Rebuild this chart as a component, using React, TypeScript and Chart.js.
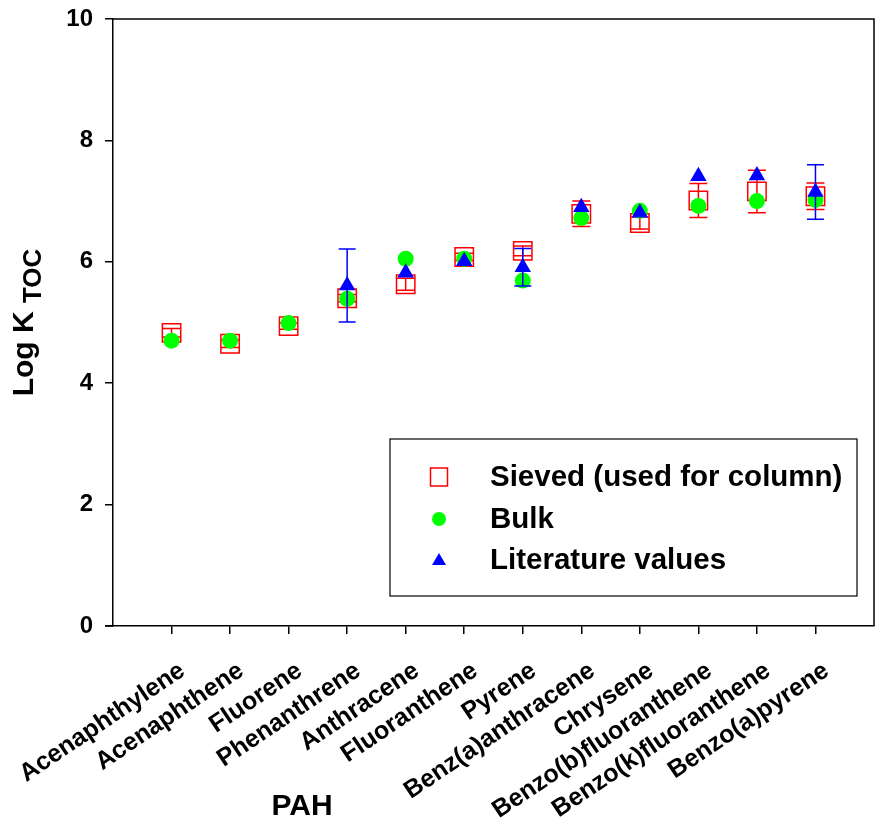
import React, { useEffect, useRef } from "react";
import { Chart, registerables } from "chart.js";

Chart.register(...registerables);

const categories = [
  "Acenaphthylene",
  "Acenaphthene",
  "Fluorene",
  "Phenanthrene",
  "Anthracene",
  "Fluoranthene",
  "Pyrene",
  "Benz(a)anthracene",
  "Chrysene",
  "Benzo(b)fluoranthene",
  "Benzo(k)fluoranthene",
  "Benzo(a)pyrene",
];

const sieved = [4.83, 4.65, 4.94, 5.4, 5.63, 6.08, 6.18, 6.79, 6.64, 7.01, 7.16, 7.08];
const sievedErr = [0.07, 0.06, 0.05, 0.06, 0.1, 0.06, 0.08, 0.21, 0.1, 0.28, 0.35, 0.22];
const bulk = [4.7, 4.7, 4.99, 5.39, 6.05, 6.05, 5.69, 6.72, 6.84, 6.92, 7.0, 7.02];
const literature: (number | null)[] = [null, null, null, 5.61, 5.82, 6.01, 5.91, 6.9, 6.81, 7.41, 7.42, 7.15];
const literatureErr = [0, 0, 0, 0.6, 0, 0, 0.31, 0, 0, 0, 0, 0.45];

const yTicks = [0, 2, 4, 6, 8, 10];

const FONT = "'Liberation Sans', Arial, sans-serif";

const legendItems = [
  { label: "Sieved (used for column)", kind: "square" },
  { label: "Bulk", kind: "circle" },
  { label: "Literature values", kind: "triangle" },
];

function toPoints(vals: (number | null)[], errs: number[]) {
  const pts: any[] = [];
  vals.forEach((v, i) => {
    if (v != null) pts.push({ x: i + 1, y: v, e: errs ? errs[i] : 0 });
  });
  return pts;
}

const errorBarPlugin = {
  id: "errorBars",
  beforeDatasetDraw(chart: any, args: any) {
    const ds = chart.data.datasets[args.index];
    if (!ds.errColor) return;
    const ctx = chart.ctx;
    const ys = chart.scales.y;
    const cap = ds.capHalf || 9;
    ctx.save();
    ctx.strokeStyle = ds.errColor;
    ctx.lineWidth = 1.5;
    args.meta.data.forEach((pt: any, i: number) => {
      const raw = ds.data[i];
      if (!raw || !raw.e) return;
      const x = pt.x;
      const yTop = ys.getPixelForValue(raw.y + raw.e);
      const yBot = ys.getPixelForValue(raw.y - raw.e);
      ctx.beginPath();
      ctx.moveTo(x, yTop);
      ctx.lineTo(x, yBot);
      ctx.moveTo(x - cap, yTop);
      ctx.lineTo(x + cap, yTop);
      ctx.moveTo(x - cap, yBot);
      ctx.lineTo(x + cap, yBot);
      ctx.stroke();
    });
    ctx.restore();
  },
};

const decorPlugin = {
  id: "decor",
  afterDraw(chart: any) {
    const ctx = chart.ctx;
    const a = chart.chartArea;
    ctx.save();
    ctx.strokeStyle = "#000";
    ctx.lineWidth = 1.5;
    ctx.beginPath();
    ctx.moveTo(a.left, a.top);
    ctx.lineTo(a.right, a.top);
    ctx.lineTo(a.right, a.bottom);
    ctx.moveTo(a.left - 8, a.bottom);
    ctx.lineTo(a.left, a.bottom);
    ctx.stroke();

    // y title
    const cy = (a.top + a.bottom) / 2;
    ctx.translate(33, cy);
    ctx.rotate(-Math.PI / 2);
    ctx.fillStyle = "#000";
    ctx.textBaseline = "alphabetic";
    ctx.textAlign = "left";
    ctx.font = `bold 30px ${FONT}`;
    const t1 = "Log K ";
    const w1 = ctx.measureText(t1).width;
    ctx.font = `bold 26px ${FONT}`;
    const t2 = "TOC";
    const w2 = ctx.measureText(t2).width;
    const start = -(w1 + w2) / 2;
    ctx.font = `bold 30px ${FONT}`;
    ctx.fillText(t1, start, 0);
    ctx.font = `bold 26px ${FONT}`;
    ctx.fillText(t2, start + w1, 8);
    ctx.restore();

    // x title
    ctx.save();
    ctx.fillStyle = "#000";
    ctx.font = `bold 30px ${FONT}`;
    ctx.textAlign = "center";
    ctx.textBaseline = "alphabetic";
    ctx.fillText("PAH", 302, 815);
    ctx.restore();

    // legend
    ctx.save();
    const bx = 390, by = 439, bw = 467, bh = 157;
    ctx.strokeStyle = "#000";
    ctx.lineWidth = 1.2;
    ctx.strokeRect(bx, by, bw, bh);
    const rows = [477, 519, 560];
    legendItems.forEach((it, i) => {
      const y = rows[i];
      const mx = 439;
      if (it.kind === "square") {
        ctx.strokeStyle = "#ff0000";
        ctx.lineWidth = 1.5;
        ctx.strokeRect(mx - 8.5, y - 9, 17, 18);
      } else if (it.kind === "circle") {
        ctx.fillStyle = "#00ff00";
        ctx.beginPath();
        ctx.arc(mx, y, 7, 0, Math.PI * 2);
        ctx.fill();
      } else {
        ctx.fillStyle = "#0000ff";
        ctx.beginPath();
        ctx.moveTo(mx, y - 7);
        ctx.lineTo(mx + 7, y + 5);
        ctx.lineTo(mx - 7, y + 5);
        ctx.closePath();
        ctx.fill();
      }
      ctx.fillStyle = "#000";
      ctx.font = `bold 29.5px ${FONT}`;
      ctx.textAlign = "left";
      ctx.textBaseline = "middle";
      ctx.fillText(it.label, 490, y + 1);
    });
    ctx.restore();
  },
};

function zeroPad(scale: any) {
  scale.paddingTop = 0;
  scale.paddingBottom = 0;
  scale.paddingLeft = 0;
  scale.paddingRight = 0;
}

export default function App() {
  const ref = useRef<HTMLCanvasElement | null>(null);
  useEffect(() => {
    document.body.style.margin = "0";
    if (!ref.current) return;
    const chart = new Chart(ref.current, {
      type: "scatter",
      data: {
        datasets: [
          {
            label: "Sieved (used for column)",
            data: toPoints(sieved, sievedErr),
            pointStyle: "rect",
            pointRadius: 13,
            pointBorderColor: "#ff0000",
            pointBackgroundColor: "rgba(0,0,0,0)",
            pointBorderWidth: 1.5,
            order: 3,
            errColor: "#ff0000",
            capHalf: 9,
          } as any,
          {
            label: "Bulk",
            data: toPoints(bulk, []),
            pointStyle: "circle",
            pointRadius: 8,
            pointBorderWidth: 0,
            pointBackgroundColor: "#00ff00",
            pointBorderColor: "#00ff00",
            order: 2,
          } as any,
          {
            label: "Literature values",
            data: toPoints(literature, literatureErr),
            pointStyle: "triangle",
            pointRadius: 9.5,
            pointBorderWidth: 0,
            pointBackgroundColor: "#0000ff",
            pointBorderColor: "#0000ff",
            order: 1,
            errColor: "#0000ff",
            capHalf: 8.5,
          } as any,
        ],
      },
      options: {
        animation: false,
        responsive: false,
        events: [],
        layout: { autoPadding: false, padding: { top: 19, right: 4, left: 0, bottom: 0 } },
        plugins: { legend: { display: false }, tooltip: { enabled: false } },
        scales: {
          x: {
            type: "linear",
            min: 0,
            max: 13,
            afterBuildTicks: (scale: any) => {
              scale.ticks = categories.map((_, i) => ({ value: i + 1 }));
            },
            afterFit: (scale: any) => {
              scale.height = 207;
              zeroPad(scale);
            },
            grid: {
              drawOnChartArea: false,
              drawTicks: true,
              tickLength: 8,
              color: "#000",
              lineWidth: 1.5,
            },
            border: { display: true, color: "#000", width: 1.5 },
            ticks: {
              autoSkip: false,
              minRotation: 34,
              maxRotation: 34,
              padding: 22,
              labelOffset: 11,
              color: "#000",
              font: { family: FONT, size: 25, weight: "bold" },
              callback: (v: any) => categories[Number(v) - 1] ?? "",
            },
          },
          y: {
            min: 0,
            max: 10,
            afterBuildTicks: (scale: any) => {
              scale.ticks = yTicks.map((v) => ({ value: v }));
            },
            afterFit: (scale: any) => {
              scale.width = 113;
              zeroPad(scale);
            },
            grid: {
              drawOnChartArea: false,
              drawTicks: true,
              tickLength: 8,
              color: "#000",
              lineWidth: 1.5,
            },
            border: { display: true, color: "#000", width: 1.5 },
            ticks: {
              padding: 12,
              color: "#000",
              font: { family: FONT, size: 24, weight: "bold" },
              callback: (v: any) => String(v),
            },
          },
        },
      } as any,
      plugins: [errorBarPlugin, decorPlugin],
    });
    return () => chart.destroy();
  }, []);
  return (
    <div style={{ width: 878, height: 833 }}>
      <canvas ref={ref} width={878} height={833} style={{ display: "block" }} />
    </div>
  );
}
